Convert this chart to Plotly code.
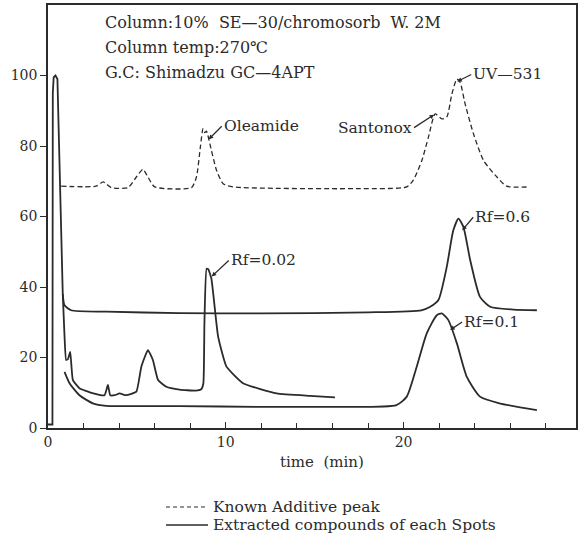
import plotly.graph_objects as go

# ---- data ----
known_t = [0.74, 2.7, 3.1, 3.56, 4.5, 4.97, 5.34, 5.62, 6.0, 8.07, 8.35, 8.57, 8.72, 8.82, 8.91,
           9.19, 9.48, 9.85, 10.4, 17.55, 20.18, 20.55, 21.03, 21.4, 21.78, 22.15, 22.43, 22.72,
           23.0, 23.18, 23.46, 23.93, 24.5, 25.25, 25.8, 27.1]
known_y = [68.6, 68.6, 69.8, 68.2, 68.2, 71.2, 73.4, 71.2, 68.4, 68.2, 71.2, 79.7, 84.9, 83.8, 84.2,
           78.8, 73.1, 69.3, 68.4, 67.9, 68.4, 70.3, 75.9, 82.5, 89.1, 87.7, 88.2, 94.8,
           99.0, 98.1, 92.0, 83.5, 75.9, 71.2, 68.6, 68.4]

solvent_t = [0.0, 0.25, 0.27, 0.32, 0.42, 0.53, 0.83]
solvent_y = [1.0, 1.0, 95.0, 99.5, 100.0, 99.0, 38.0]

rf002_t = [0.83, 0.93, 1.02, 1.12, 1.25, 1.4, 1.77, 2.5, 3.18, 3.37, 3.5, 3.75, 4.03, 4.4,
           4.97, 5.25, 5.62, 5.9, 6.19, 6.66, 7.4, 8.3, 8.62, 8.74, 8.8, 8.92, 9.02, 9.19,
           9.57, 10.04, 10.97, 12.86, 14.73, 16.14]
rf002_y = [38.0, 26.0, 19.3, 19.5, 21.6, 13.6, 11.3, 9.9, 9.3, 12.2, 9.3, 9.3, 9.8, 9.3,
           10.3, 17.4, 22.1, 19.3, 13.6, 11.7, 10.9, 10.6, 11.0, 12.7, 30.0, 45.2,
           45.0, 42.4, 25.9, 17.4, 12.7, 9.8, 9.1, 8.7]

rf06_t = [0.83, 0.93, 1.3, 3.28, 7.4, 12.0, 18.0, 21.0, 21.5, 21.96, 22.43, 22.8, 23.09, 23.37,
          23.75, 24.3, 24.87, 26.19, 27.5]
rf06_y = [38.0, 34.8, 33.4, 33.0, 32.6, 32.5, 32.8, 33.4, 34.4, 36.3, 45.7, 56.1, 59.4, 57.0,
          47.6, 37.2, 34.4, 33.6, 33.4]

rf01_t = [0.93, 1.21, 1.77, 2.52, 3.28, 7.4, 12.0, 16.0, 19.6, 20.18, 20.74, 21.3, 21.87, 22.15,
          22.52, 23.0, 23.56, 24.3, 25.4, 27.5]
rf01_y = [15.9, 12.7, 9.3, 7.0, 6.3, 6.2, 6.0, 6.0, 6.5, 8.9, 17.4, 26.8, 32.0, 32.5,
          30.6, 24.0, 14.5, 8.9, 7.0, 5.1]

x_major = [0, 10, 20]
y_ticks = [0, 20, 40, 60, 80, 100]

INK = "#2b2b2b"
SERIF = "DejaVu Serif, Liberation Serif, serif"

# plot-area geometry in pixels (used only to place paper-referenced text)
L, R, T, B = 48, 576, 5, 428
W, H = R - L, B - T


def px(xp):
    return (xp - L) / W


def py(yp):
    return (B - yp) / H


fig = go.Figure()
fig.add_trace(go.Scatter(x=known_t, y=known_y, mode="lines", name="Known Additive peak",
                         line=dict(color=INK, width=1.3, dash="5px,3px", shape="spline", smoothing=0.6)))
fig.add_trace(go.Scatter(x=solvent_t, y=solvent_y, mode="lines", name="Extracted compounds of each Spots",
                         line=dict(color=INK, width=1.8)))
fig.add_trace(go.Scatter(x=rf002_t, y=rf002_y, mode="lines", name="Rf=0.02",
                         line=dict(color=INK, width=1.8, shape="spline", smoothing=0.4)))
fig.add_trace(go.Scatter(x=rf06_t, y=rf06_y, mode="lines", name="Rf=0.6",
                         line=dict(color=INK, width=1.8, shape="spline", smoothing=0.6)))
fig.add_trace(go.Scatter(x=rf01_t, y=rf01_y, mode="lines", name="Rf=0.1",
                         line=dict(color=INK, width=1.8, shape="spline", smoothing=0.6)))

# header text
header = ["Column:10%  SE—30/chromosorb  W. 2M", "Column temp:270℃", "G.C: Shimadzu GC—4APT"]
header_y = [23, 47, 72]
for txt, yy in zip(header, header_y):
    fig.add_annotation(xref="paper", yref="paper", x=px(103), y=py(yy),
                       text=txt, showarrow=False, xanchor="left", yanchor="middle",
                       font=dict(family=SERIF, size=16, color=INK))

# peak labels with arrows: (text, tip_t, tip_y, ax, ay, xanchor)
labels = [
    ("Oleamide", 9.04, 81.9, 13, -13, "left"),
    ("Santonox", 21.72, 88.9, -20, 13, "right"),
    ("UV—531", 23.02, 98.3, 14, -7, "left"),
    ("Rf=0.02", 9.21, 43.0, 17, -16, "left"),
    ("Rf=0.6", 23.3, 56.1, 11, -13, "left"),
    ("Rf=0.1", 22.62, 27.8, 12, -8, "left"),
]
for txt, tx, ty, ax, ay, xa in labels:
    fig.add_annotation(x=tx, y=ty, text=txt, showarrow=True, ax=ax, ay=ay,
                       xanchor=xa, yanchor="middle", arrowhead=2, arrowsize=0.7,
                       arrowwidth=1.3, arrowcolor=INK, standoff=0,
                       font=dict(family=SERIF, size=15.5, color=INK))

# axis title, placed as in the reference (slightly right of the plot centre)
fig.add_annotation(xref="paper", yref="paper", x=px(322), y=py(462), text="time  (min)",
                   showarrow=False, xanchor="center", yanchor="middle",
                   font=dict(family=SERIF, size=15, color=INK))

# legend drawn as text + line samples
legend_rows = [("Known Additive peak", "dash", 507), ("Extracted compounds of each Spots", "solid", 525)]
for txt, dash, yy in legend_rows:
    fig.add_shape(type="line", xref="paper", yref="paper", x0=px(166), x1=px(208), y0=py(yy), y1=py(yy),
                  line=dict(color=INK, width=1.2 if dash == "dash" else 1.6,
                            dash="4px,3px" if dash == "dash" else "solid"))
    fig.add_annotation(xref="paper", yref="paper", x=px(211), y=py(yy), text=txt, showarrow=False,
                       xanchor="left", yanchor="middle", font=dict(family=SERIF, size=15.5, color=INK))

fig.update_xaxes(range=[0, 29.7], tickvals=x_major, ticks="inside", ticklen=6, tickwidth=1.2,
                 tickcolor=INK, minor=dict(dtick=2, ticks="inside", ticklen=5, tickwidth=1.2, tickcolor=INK),
                 showline=True, linewidth=1.5, linecolor=INK, mirror=True, showgrid=False, zeroline=False,
                 automargin=False, tickfont=dict(family=SERIF, size=14, color=INK))
fig.update_yaxes(range=[0, 120], tickvals=y_ticks, ticks="outside", ticklen=6, tickwidth=1.2,
                 tickcolor=INK, showline=True, linewidth=1.5, linecolor=INK, mirror=True,
                 automargin=False, showgrid=False, zeroline=False,
                 tickfont=dict(family=SERIF, size=14, color=INK))

fig.update_layout(width=584, height=544, margin=dict(l=L, r=584 - R, t=T, b=544 - B, autoexpand=False),
                  paper_bgcolor="white", plot_bgcolor="white", showlegend=False)

fig.write_html("out.html", config={"displayModeBar": False},
               post_script="document.body.style.margin='0px';")
